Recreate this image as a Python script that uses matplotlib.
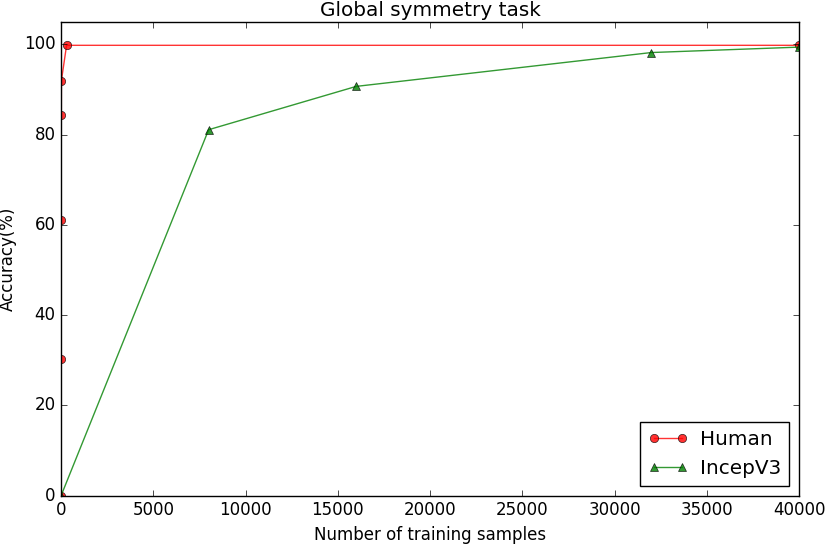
import matplotlib
matplotlib.use("Agg")
import matplotlib.pyplot as plt

plt.style.use("classic")

human_x = [0, 5, 10, 15, 20, 300, 40000]
human_y = [0, 30.4, 61.1, 84.3, 92.0, 99.8, 99.8]
incep_x = [0, 8000, 16000, 32000, 40000]
incep_y = [0, 81.1, 90.7, 98.2, 99.4]

fig = plt.figure(figsize=(8.25, 5.46), dpi=100)
ax = fig.add_axes([0.074, 0.092, 0.8945, 0.868])
ax.plot(human_x, human_y, 'r-o', alpha=0.8, markersize=6, label='Human')
ax.plot(incep_x, incep_y, 'g-^', alpha=0.8, markersize=6, label='IncepV3')
ax.set_xlim(0, 40000)
ax.set_ylim(0, 105)
ax.set_yticks([0, 20, 40, 60, 80, 100])
ax.set_title('Global symmetry task', pad=4)
ax.set_xlabel('Number of training samples')
ax.set_ylabel('Accuracy(%)')
ax.legend(loc='lower right', handletextpad=0.6)
fig.savefig('out.png', dpi=100)
